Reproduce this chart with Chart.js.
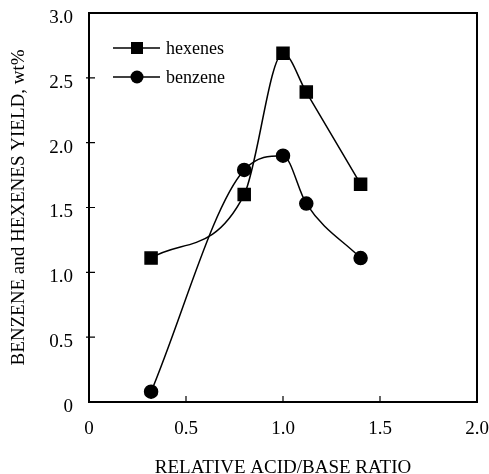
<!DOCTYPE html>
<html>
<head>
<meta charset="utf-8">
<script src="https://cdn.jsdelivr.net/npm/chart.js@4.4.1/dist/chart.umd.min.js"></script>
<style>
  html, body { margin: 0; padding: 0; background: #fff; }
  #wrap { width: 489px; height: 474px; }
</style>
</head>
<body>
<div id="wrap"><canvas id="chart" width="489" height="474"></canvas></div>
<script>
// data
const ratio = [0.32, 0.8, 1.0, 1.12, 1.4];
const hexenes = [1.11, 1.6, 2.69, 2.39, 1.68];
const benzene = [0.08, 1.79, 1.9, 1.53, 1.11];
const seriesNames = ['hexenes', 'benzene'];
const xTicks = [0, 0.5, 1.0, 1.5, 2.0];
const xTickLabels = ['0', '0.5', '1.0', '1.5', '2.0'];
const yTicks = [0, 0.5, 1.0, 1.5, 2.0, 2.5, 3.0];
const yTickLabels = ['0', '0.5', '1.0', '1.5', '2.0', '2.5', '3.0'];

const FONT = '"Liberation Serif", "DejaVu Serif", serif';

function toPoints(xs, ys) {
    return xs.map((x, i) => ({ x: x, y: ys[i] }));
}

// box around the plot, inward ticks, legend with line + marker
const framePlugin = {
    id: 'frame',
    afterDraw(chart) {
        const ctx = chart.ctx;
        const a = chart.chartArea;
        const xs = chart.scales.x;
        const ys = chart.scales.y;
        ctx.save();
        ctx.strokeStyle = '#000';
        ctx.lineWidth = 2;
        ctx.strokeRect(a.left, a.top, a.right - a.left, a.bottom - a.top);

        ctx.lineWidth = 1.2;
        ctx.beginPath();
        xTicks.slice(1, -1).forEach(v => {
            const px = xs.getPixelForValue(v);
            ctx.moveTo(px, a.bottom);
            ctx.lineTo(px, a.bottom - 6);
        });
        yTicks.slice(1, -1).forEach(v => {
            const py = ys.getPixelForValue(v);
            ctx.moveTo(a.left - 3, py);
            ctx.lineTo(a.left + 6, py);
        });
        ctx.stroke();

        // legend
        const rows = [
            { name: seriesNames[0], style: 'rect', y: 48 },
            { name: seriesNames[1], style: 'circle', y: 77 }
        ];
        ctx.font = '18px ' + FONT;
        ctx.textBaseline = 'middle';
        ctx.fillStyle = '#000';
        rows.forEach(r => {
            ctx.lineWidth = 1.5;
            ctx.beginPath();
            ctx.moveTo(113, r.y);
            ctx.lineTo(160, r.y);
            ctx.stroke();
            if (r.style === 'rect') {
                ctx.fillRect(131, r.y - 6, 12, 12);
            } else {
                ctx.beginPath();
                ctx.arc(137, r.y, 6.5, 0, Math.PI * 2);
                ctx.fill();
            }
            ctx.fillText(r.name, 166, r.y + 1);
        });
        ctx.restore();
    }
};

new Chart(document.getElementById('chart'), {
    type: 'scatter',
    data: {
        datasets: [
            {
                label: seriesNames[0],
                data: toPoints(ratio, hexenes),
                showLine: true,
                borderColor: '#000',
                backgroundColor: '#000',
                borderWidth: 1.5,
                pointStyle: 'rect',
                pointRadius: 8.5,
                pointHoverRadius: 8.5,
                cubicInterpolationMode: 'monotone'
            },
            {
                label: seriesNames[1],
                data: toPoints(ratio, benzene),
                showLine: true,
                borderColor: '#000',
                backgroundColor: '#000',
                borderWidth: 1.5,
                pointStyle: 'circle',
                pointRadius: 6.5,
                pointHoverRadius: 6.5,
                cubicInterpolationMode: 'monotone'
            }
        ]
    },
    options: {
        responsive: false,
        animation: false,
        layout: { padding: { top: 13, right: 12, left: 0, bottom: 0 } },
        plugins: {
            legend: { display: false },
            tooltip: { enabled: false }
        },
        scales: {
            x: {
                type: 'linear',
                min: 0,
                max: 2,
                afterBuildTicks: s => { s.ticks = xTicks.map(v => ({ value: v })); },
                afterFit: s => {
                    s.height = 72;
                    s.paddingLeft = 0;
                    s.paddingRight = 0;
                },
                grid: { display: false, drawTicks: false },
                border: { display: false },
                ticks: {
                    padding: 16,
                    color: '#000',
                    font: { family: FONT, size: 19 },
                    maxRotation: 0,
                    callback: v => xTickLabels[xTicks.indexOf(v)]
                },
                title: {
                    display: true,
                    text: 'RELATIVE ACID/BASE RATIO',
                    color: '#000',
                    font: { family: FONT, size: 19, lineHeight: 1 },
                    padding: { top: 0, bottom: -4 }
                }
            },
            y: {
                type: 'linear',
                min: 0,
                max: 3,
                afterBuildTicks: s => { s.ticks = yTicks.map(v => ({ value: v })); },
                afterFit: s => {
                    s.width = 89;
                    s.paddingTop = 0;
                    s.paddingBottom = 0;
                },
                grid: { display: false, drawTicks: false },
                border: { display: false },
                ticks: {
                    padding: 16,
                    labelOffset: 5,
                    color: '#000',
                    font: { family: FONT, size: 19 },
                    callback: v => yTickLabels[yTicks.indexOf(v)]
                },
                title: {
                    display: true,
                    text: 'BENZENE and HEXENES YIELD, wt%',
                    color: '#000',
                    font: { family: FONT, size: 19, lineHeight: 1 },
                    padding: { top: 10, bottom: 0 }
                }
            }
        }
    },
    plugins: [framePlugin]
});
</script>
</body>
</html>
